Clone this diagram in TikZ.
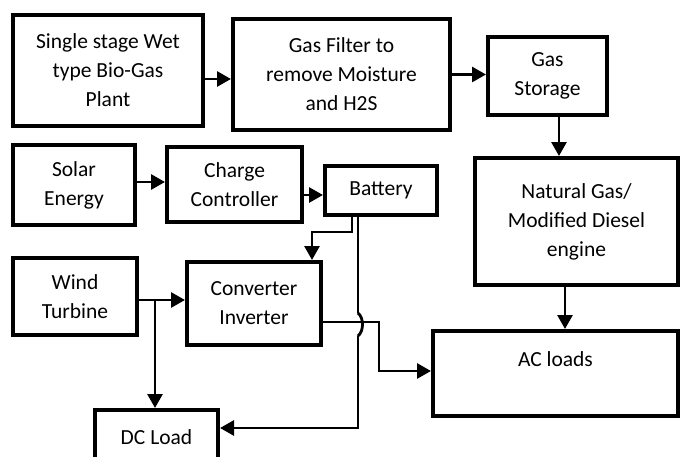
\documentclass[tikz,border=0pt]{standalone}
\usepackage{fontspec}
\setmainfont{Carlito}
\usetikzlibrary{arrows.meta}
\tikzset{blk/.style={draw,line width=4pt,align=center,inner sep=0pt,font=\fontsize{21.5}{29}\selectfont},
  arr/.style={line width=2.8pt,-{Triangle[length=14pt,width=15pt]}}}
\begin{document}
\begin{tikzpicture}[x=1pt,y=-1pt]
\useasboundingbox (0,0) rectangle (681,456);
\node[blk,minimum width=190pt,minimum height=111pt] (bio) at (108,70.5) {Single stage Wet\\type Bio-Gas\\Plant};
\node[blk,minimum width=217pt,minimum height=111pt] (filter) at (341.5,74.5) {Gas Filter to\\remove Moisture\\and H2S};
\node[blk,minimum width=119pt,minimum height=78pt] (storage) at (547.5,76) {Gas\\Storage};
\node[blk,minimum width=122pt,minimum height=80pt] (solar) at (74,185) {Solar\\Energy};
\node[blk,minimum width=135pt,minimum height=75pt] (charge) at (234.5,184.5) {Charge\\Controller};
\node[blk,minimum width=112pt,minimum height=49pt] (battery) at (381,190.5) {Battery};
\node[blk,minimum width=203pt,minimum height=127pt] (natgas) at (576.5,221.5) {Natural Gas/\\Modified Diesel\\engine};
\node[blk,minimum width=124pt,minimum height=77pt] (wind) at (75,296.5) {Wind\\Turbine};
\node[blk,minimum width=134pt,minimum height=83pt] (conv) at (254,303.5) {Converter\\Inverter};
\node[blk,minimum width=245pt,minimum height=85pt] (ac) at (555.5,373.5) {AC loads\\~};
\node[blk,minimum width=123pt,minimum height=54pt] (dcload) at (156.5,437) {DC Load};
\coordinate (b1) at ([yshift=-8.5pt]bio.east);\coordinate (s1) at ([xshift=11.5pt]storage.south);
\coordinate (p1) at ([yshift=3pt]solar.east);\coordinate (c1) at ([yshift=-10.5pt]charge.east);
\coordinate (w1) at ([yshift=-3.5pt]wind.east);\coordinate (br) at ([xshift=16pt]w1);
\coordinate (v1) at ([yshift=-18.5pt]conv.east);\coordinate (n1) at ([xshift=-11.5pt]natgas.south);
\coordinate (j1) at (358,313);\coordinate (j2) at (358,336);
\draw[arr] (b1) -- (b1 -| filter.west);
\draw[arr] (filter.east) -- (filter.east -| storage.west);
\draw[arr] (s1) -- (s1 |- natgas.north);
\draw[arr] (p1) -- (p1 -| charge.west);
\draw[arr] (c1) -- (c1 -| battery.west);
\draw[arr] ([xshift=-29pt]battery.south) -- ++(0,15) -| ([xshift=58pt]conv.north);
\draw[arr] (w1) -- (w1 -| conv.west);
\draw[arr] (br) -- (br |- dcload.north);
\draw[arr] (v1) -- ++(56,0) |- ([yshift=2.5pt]ac.west);
\draw[arr] (n1) -- (n1 |- ac.north);
\draw[line width=1.1pt] ([xshift=-23pt]battery.south) -- (j1);
\draw[line width=2.8pt] (j1) .. controls (364,318) and (364,331) .. (j2);
\draw[arr] (j2) |- ([yshift=9pt]dcload.east);
\end{tikzpicture}
\end{document}
